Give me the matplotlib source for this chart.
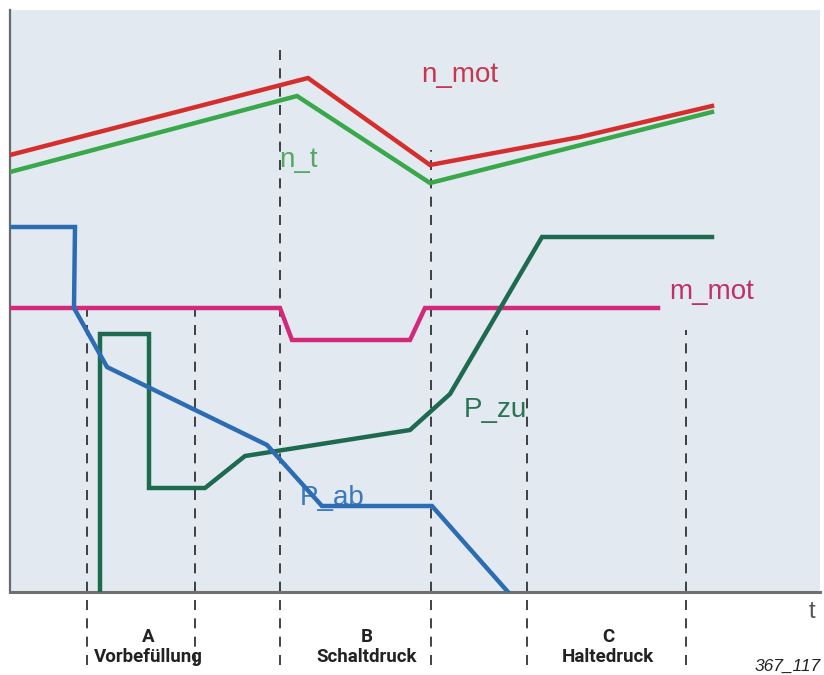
import matplotlib.pyplot as plt
import numpy as np

# time axis in arbitrary units (0..810), signal level in arbitrary units (0..582)
n_mot_t = [0, 298, 420, 570, 702]
n_mot_v = [437, 514, 427, 455, 486]

n_t_t = [0, 287, 420, 702]
n_t_v = [420, 496, 409, 480]

m_mot_t = [0, 270, 282, 400, 415, 648]
m_mot_v = [284, 284, 252, 252, 284, 284]

p_ab_t = [0, 65, 64, 97, 257, 312, 422, 498]
p_ab_v = [365, 365, 284, 225, 147, 86, 86, 0]

p_zu_t = [90, 90, 139, 139, 195, 235, 400, 440, 532, 702]
p_zu_v = [0, 258, 258, 104, 104, 136, 162, 198, 355, 355]

# phase boundaries (dashed markers) and how high they reach
phase_t = [77, 185, 270, 421, 517, 676]
phase_top = [282, 282, 547, 442, 262, 262]
phase_bottom = -73

phase_names = ['A\nVorbefüllung', 'B\nSchaltdruck', 'C\nHaltedruck']
phase_label_t = [138, 357, 598]

# colors
c_nmot = '#d42f2c'
c_nt = '#38a84a'
c_mmot = '#d22a7a'
c_pab = '#2c6cb2'
c_pzu = '#1d6a4e'
bg = '#e2e9f0'

fig = plt.figure(figsize=(8.24, 6.75), dpi=100)
ax = fig.add_axes([10 / 824, 83 / 675, 810 / 824, 582 / 675])
ax.set_facecolor(bg)
ax.set_xlim(0, 810)
ax.set_ylim(0, 582)
ax.set_xticks([])
ax.set_yticks([])
for s in ['top', 'right']:
    ax.spines[s].set_visible(False)
ax.spines['left'].set_color('#6a6a6a')
ax.spines['left'].set_linewidth(1.6)
ax.spines['bottom'].set_color('#707070')
ax.spines['bottom'].set_linewidth(2.2)

# dashed phase lines, running below the axis
for t, top in zip(phase_t, phase_top):
    ax.plot([t, t], [phase_bottom, top], color='#222222', lw=1.2,
            dashes=(6, 5), clip_on=False, zorder=1)

lw = 3.2
ax.plot(n_t_t, n_t_v, color=c_nt, lw=lw, solid_joinstyle='miter', zorder=3)
ax.plot(n_mot_t, n_mot_v, color=c_nmot, lw=lw, solid_joinstyle='miter', zorder=3)
ax.plot(m_mot_t, m_mot_v, color=c_mmot, lw=lw, solid_joinstyle='miter', zorder=3)
ax.plot(p_zu_t, p_zu_v, color=c_pzu, lw=lw, solid_joinstyle='miter', zorder=3)
ax.plot(p_ab_t, p_ab_v, color=c_pab, lw=lw, solid_joinstyle='miter', zorder=4)

lab = dict(family=['Liberation Sans', 'DejaVu Sans'], fontsize=20, ha='center', va='center')
ax.text(450, 517, 'n_mot', color='#c8364e', **lab)
ax.text(288, 432, 'n_t', color='#55a862', **lab)
ax.text(702, 300, 'm_mot', color='#bf2f6e', **lab)
ax.text(485, 182, 'P_zu', color='#2b7352', **lab)
ax.text(322, 94, 'P_ab', color='#3b78bd', **lab)

# phase names below the axis
for t, name in zip(phase_label_t, phase_names):
    ax.text(t, -55, name, ha='center', va='center', fontsize=13.5, fontweight='bold',
            family=['Roboto', 'DejaVu Sans'], color='#222222',
            linespacing=1.1, clip_on=False)

ax.text(802, -20, 't', ha='center', va='center', fontsize=17, color='#555555',
        family=['Liberation Sans', 'DejaVu Sans'], clip_on=False)
ax.text(811, -79, '367_117', ha='right', va='baseline', fontsize=12.5, style='italic',
        color='#222222', family=['Liberation Sans', 'DejaVu Sans'], clip_on=False)

fig.savefig('out.png', dpi=100, facecolor='white')
